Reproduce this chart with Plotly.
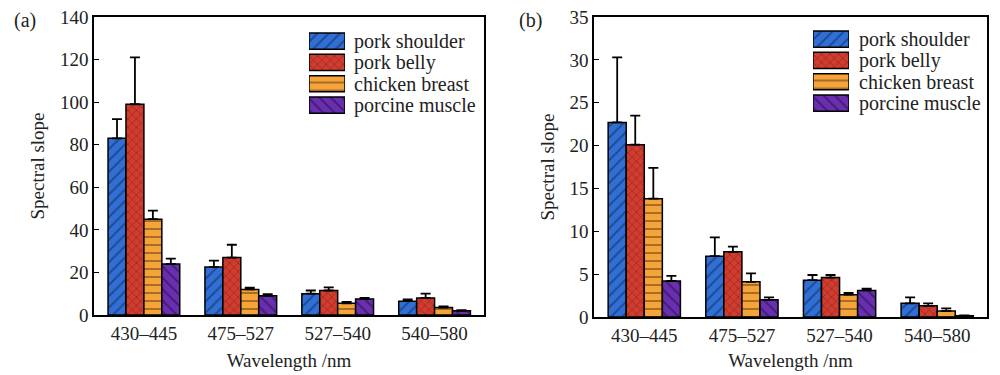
import plotly.graph_objects as go

categories = ["430\u2013445", "475\u2013527", "527\u2013540", "540\u2013580"]
series_names = ["pork shoulder", "pork belly", "chicken breast", "porcine muscle"]

a_shoulder = [83.0, 22.5, 10.0, 6.5]
a_shoulder_err = [9.0, 3.0, 1.5, 0.8]
a_belly = [99.0, 27.0, 11.5, 8.0]
a_belly_err = [22.0, 6.0, 1.5, 2.0]
a_chicken = [45.0, 12.0, 5.5, 3.5]
a_chicken_err = [4.0, 0.8, 0.6, 0.5]
a_porcine = [24.0, 9.0, 7.5, 2.0]
a_porcine_err = [2.5, 0.8, 0.5, 0.3]

b_shoulder = [22.7, 7.1, 4.3, 1.6]
b_shoulder_err = [7.6, 2.2, 0.6, 0.7]
b_belly = [20.1, 7.6, 4.6, 1.3]
b_belly_err = [3.4, 0.6, 0.3, 0.3]
b_chicken = [13.8, 4.1, 2.6, 0.7]
b_chicken_err = [3.6, 1.0, 0.2, 0.3]
b_porcine = [4.2, 2.0, 3.1, 0.15]
b_porcine_err = [0.6, 0.3, 0.2, 0.05]

# legend key swatches (full-length boxes)
legend_key_length = [1, 1, 1, 1]

colors = ["#2f6fd6", "#d23c2e", "#f5a43a", "#6a2fb0"]
fgcolors = ["#14244a", "#5a1a14", "#5a3510", "#1c0c38"]
shapes = ["/", "x", "-", "\\"]
FONT = "Liberation Serif"
TXT = "#222"


def marker_for(i, size=None):
    return dict(color=colors[i], line=dict(color="black", width=1.5),
                pattern=dict(shape=shapes[i], fgcolor=fgcolors[i],
                             size=size or (8 if shapes[i] != "x" else 6),
                             solidity=0.25))


fig = go.Figure()

panels = [
    ("x", "y", "x3", "y3", [a_shoulder, a_belly, a_chicken, a_porcine],
     [a_shoulder_err, a_belly_err, a_chicken_err, a_porcine_err]),
    ("x2", "y2", "x4", "y4", [b_shoulder, b_belly, b_chicken, b_porcine],
     [b_shoulder_err, b_belly_err, b_chicken_err, b_porcine_err]),
]

for xa, ya, lxa, lya, vals, errs in panels:
    for i, name in enumerate(series_names):
        fig.add_trace(go.Bar(
            x=categories, y=vals[i], name=name, xaxis=xa, yaxis=ya,
            showlegend=False, marker=marker_for(i),
            error_y=dict(type="data", array=errs[i], arrayminus=[0] * 4, symmetric=False,
                         color="black", thickness=1.8, width=5),
        ))
    # legend keys drawn on a small helper axis
    for i, name in enumerate(series_names):
        fig.add_trace(go.Bar(
            x=[legend_key_length[i]], y=[name], orientation="h", xaxis=lxa, yaxis=lya,
            width=0.76, showlegend=False, hoverinfo="skip", marker=marker_for(i),
        ))

axis_common = dict(showline=True, linecolor="black", linewidth=1.5, mirror=True,
                   tickfont=dict(family=FONT, size=19, color=TXT),
                   showgrid=False, zeroline=False, automargin=False)
hidden = dict(visible=False, showgrid=False, zeroline=False, automargin=False, fixedrange=True)

title_font = dict(family=FONT, size=19, color=TXT)

H = 375.0
def py(px):
    return 1 - px / H

# legend rows span in pixels
row_top, row_bot = 30.5, 115.7

annotations = [
    dict(text="(a)", x=0.012, y=py(20), xref="paper", yref="paper", showarrow=False,
         xanchor="left", yanchor="middle", font=dict(family=FONT, size=20, color=TXT)),
    dict(text="(b)", x=0.517, y=py(20), xref="paper", yref="paper", showarrow=False,
         xanchor="left", yanchor="middle", font=dict(family=FONT, size=20, color=TXT)),
]
for lya_key, tx in [("y3", 0.352), ("y4", 0.857)]:
    for i, name in enumerate(series_names):
        annotations.append(dict(text=name, x=tx, xref="paper", y=name, yref=lya_key,
                                showarrow=False, xanchor="left", yanchor="middle",
                                font=dict(family=FONT, size=20, color=TXT)))

fig.update_layout(
    width=1000, height=375,
    margin=dict(l=0, r=0, t=0, b=0, autoexpand=False),
    paper_bgcolor="white", plot_bgcolor="white",
    barmode="group", bargap=0.26, bargroupgap=0,
    showlegend=False,
    font=dict(family=FONT, size=19, color=TXT),
    xaxis=dict(domain=[0.094, 0.484], anchor="y", range=[-0.515, 3.51],
               ticks="", title=dict(text="Wavelength /nm", font=title_font, standoff=11),
               **axis_common),
    yaxis=dict(domain=[py(315), py(17)], anchor="x", range=[0, 140], dtick=20,
               ticks="inside", ticklen=5, tickcolor="black", tickwidth=1.2,
               title=dict(text="Spectral slope", font=title_font, standoff=10),
               **axis_common),
    xaxis2=dict(domain=[0.594, 0.987], anchor="y2", range=[-0.515, 3.51],
                ticks="", title=dict(text="Wavelength /nm", font=title_font, standoff=9),
                **axis_common),
    yaxis2=dict(domain=[py(317), py(17)], anchor="x2", range=[0, 35], dtick=5,
                ticks="inside", ticklen=5, tickcolor="black", tickwidth=1.2,
                title=dict(text="Spectral slope", font=title_font, standoff=10),
                **axis_common),
    xaxis3=dict(domain=[0.309, 0.345], anchor="y3", range=[0, 1], **hidden),
    yaxis3=dict(domain=[py(row_bot), py(row_top)], anchor="x3", type="category",
                categoryorder="array", categoryarray=series_names[::-1],
                range=[-0.5, 3.5], **hidden),
    xaxis4=dict(domain=[0.813, 0.849], anchor="y4", range=[0, 1], **hidden),
    yaxis4=dict(domain=[py(row_bot - 2), py(row_top - 2)], anchor="x4", type="category",
                categoryorder="array", categoryarray=series_names[::-1],
                range=[-0.5, 3.5], **hidden),
    annotations=annotations,
)

fig.write_html("out.html", config={"displayModeBar": False},
               post_script="document.body.style.margin='0';document.body.style.overflow='hidden';")
